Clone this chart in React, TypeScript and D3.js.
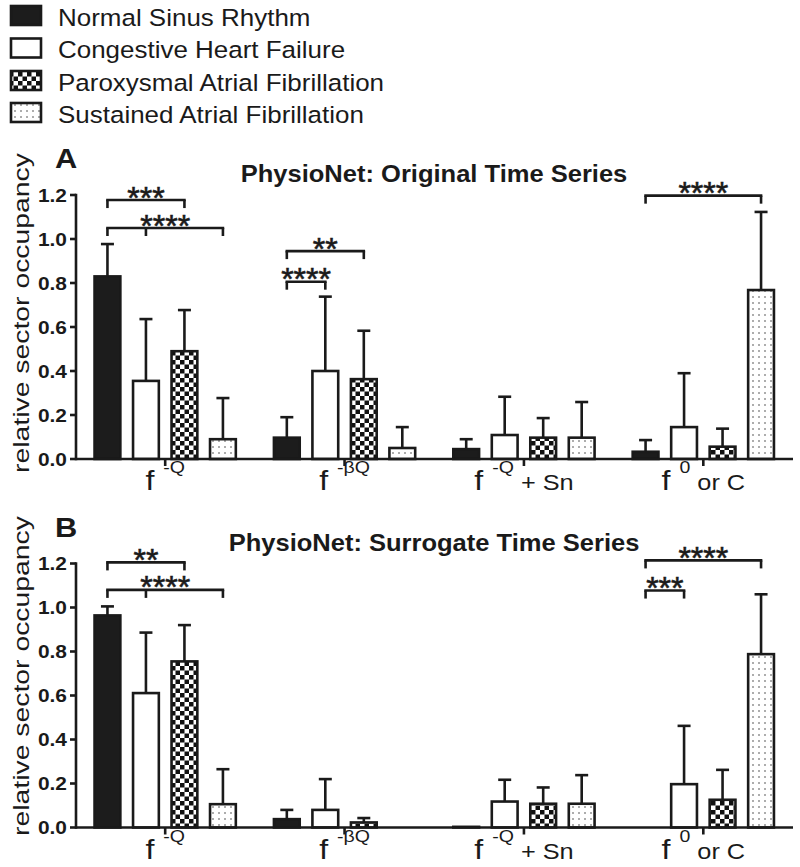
import React from "react";
import * as d3 from "d3";

const categories = ["f^-Q", "f^-βQ", "f^-Q + Sn", "f^0 or C"];
const labelBase = ["f", "f", "f", "f"];
const labelSup = ["-Q", "-βQ", "-Q", "0"];
const labelRest = ["", "", " + Sn", " or C"];
const seriesNames = [
  "Normal Sinus Rhythm",
  "Congestive Heart Failure",
  "Paroxysmal Atrial Fibrillation",
  "Sustained Atrial Fibrillation",
];
const yTicks = [0, 0.2, 0.4, 0.6, 0.8, 1.0, 1.2];

// Panel A: original time series (mean, SD) per series, per category
const origNSR = [0.83, 0.097, 0.045, 0.033];
const origCHF = [0.355, 0.4, 0.109, 0.145];
const origPAF = [0.49, 0.363, 0.097, 0.056];
const origSAF = [0.09, 0.05, 0.097, 0.768];
const origNSRsd = [0.147, 0.093, 0.045, 0.053];
const origCHFsd = [0.281, 0.338, 0.174, 0.245];
const origPAFsd = [0.187, 0.22, 0.089, 0.082];
const origSAFsd = [0.187, 0.095, 0.162, 0.355];

// Panel B: surrogate time series
const surrNSR = [0.964, 0.038, 0.003, 0];
const surrCHF = [0.611, 0.08, 0.118, 0.197];
const surrPAF = [0.755, 0.023, 0.108, 0.126];
const surrSAF = [0.106, 0, 0.108, 0.788];
const surrNSRsd = [0.041, 0.042, 0, 0];
const surrCHFsd = [0.275, 0.14, 0.099, 0.265];
const surrPAFsd = [0.165, 0.02, 0.074, 0.136];
const surrSAFsd = [0.159, 0, 0.13, 0.272];

// significance brackets: category index, series indices joined, height (data units), label
const bracketsOrig = [
  { cat: 0, pts: [0, 2], level: 1.177, stars: "***" },
  { cat: 0, pts: [0, 1, 3], level: 1.05, stars: "****" },
  { cat: 1, pts: [0, 2], level: 0.945, stars: "**" },
  { cat: 1, pts: [0, 1], level: 0.806, stars: "****" },
  { cat: 3, pts: [0, 3], level: 1.197, stars: "****" },
];
const bracketsSurr = [
  { cat: 0, pts: [0, 2], level: 1.205, stars: "**" },
  { cat: 0, pts: [0, 1, 3], level: 1.08, stars: "****" },
  { cat: 3, pts: [0, 3], level: 1.214, stars: "****" },
  { cat: 3, pts: [0, 1], level: 1.077, stars: "***" },
];

const FONT = "'Liberation Sans', Arial, Helvetica, sans-serif";
const INK = "#1a1a1a";
const fills = ["#1c1c1c", "#ffffff", "url(#checker)", "url(#dots)"];

function STxt(props: any) {
  const { x, y, sx = 1, rotate = 0, anchor = "start", size, weight = "normal", stroke, children } = props;
  const tf = `translate(${x},${y})` + (rotate ? ` rotate(${rotate})` : "") + ` scale(${sx},1)`;
  return (
    <text
      transform={tf}
      textAnchor={anchor}
      fontSize={size}
      fontWeight={weight}
      fontFamily={FONT}
      fill={INK}
      stroke={stroke ? INK : undefined}
      strokeWidth={stroke || undefined}
    >
      {children}
    </text>
  );
}

function Panel(props: any) {
  const { means, sds, brackets, title, letter, top, labelCenter } = props;
  const y = d3.scaleLinear().domain([0, 1.2]).range([top + 264, top]);
  const y0 = y(0);
  const x0 = d3.scaleBand<string>().domain(categories).range([75.5, 793]).padding(0);
  const x1 = d3
    .scaleBand<string>()
    .domain(seriesNames)
    .range([0, x0.bandwidth()])
    .paddingInner(0.33)
    .paddingOuter(0.495);
  const bw = x1.bandwidth();
  const cx = (c: number, s: number) => (x0(categories[c]) as number) + (x1(seriesNames[s]) as number) + bw / 2;
  const sw = 2.6;
  return (
    <g>
      <STxt x={55} y={top - 27} size={28} weight="bold" sx={1.1}>{letter}</STxt>
      <STxt x={434} y={top - 13} size={23} weight="bold" sx={1.11} anchor="middle">{title}</STxt>
      <STxt x={28.5} y={labelCenter} size={21.5} rotate={-90} sx={1.32} anchor="middle">relative sector occupancy</STxt>
      {/* bars */}
      {seriesNames.map((s, si) =>
        categories.map((c, ci) => {
          const v = means[si][ci];
          if (v <= 0) return null;
          return (
            <rect
              key={`b${si}-${ci}`}
              x={cx(ci, si) - bw / 2}
              y={y(v)}
              width={bw}
              height={y0 - y(v)}
              fill={fills[si]}
              stroke={INK}
              strokeWidth={sw}
            />
          );
        })
      )}
      {/* error bars */}
      {seriesNames.map((s, si) =>
        categories.map((c, ci) => {
          const v = means[si][ci];
          const e = sds[si][ci];
          if (e <= 0) return null;
          const xc = cx(ci, si);
          return (
            <g key={`e${si}-${ci}`} stroke={INK} strokeWidth={sw}>
              <line x1={xc} x2={xc} y1={y(v)} y2={y(v + e)} />
              <line x1={xc - 6.5} x2={xc + 6.5} y1={y(v + e)} y2={y(v + e)} />
            </g>
          );
        })
      )}
      {/* y axis */}
      <line x1={76} x2={76} y1={y0 + sw / 2} y2={y(1.2) - sw / 2} stroke={INK} strokeWidth={sw} />
      {yTicks.map((t) => (
        <g key={`yt${t}`}>
          <line x1={70} x2={76} y1={y(t)} y2={y(t)} stroke={INK} strokeWidth={sw} />
          <STxt x={67} y={y(t) + 6.8} size={19} weight="bold" sx={1.1} anchor="end">{t.toFixed(1)}</STxt>
        </g>
      ))}
      {/* x axis */}
      <line x1={76} x2={793} y1={y0} y2={y0} stroke={INK} strokeWidth={sw} />
      {categories.map((c, ci) => {
        const xc = (x0(c) as number) + x0.bandwidth() / 2;
        return (
          <g key={`xt${ci}`}>
            <line x1={xc} x2={xc} y1={y0} y2={y0 + 7} stroke={INK} strokeWidth={sw} />
            <text
              transform={`translate(${xc},${y0 + 31}) scale(1.15,1)`}
              textAnchor="middle"
              fontFamily={FONT}
              fill={INK}
              fontSize={22}
            >
              <tspan fontSize={28}>{labelBase[ci] + "\u00a0"}</tspan>
              <tspan fontSize={17} dy={-17}>{labelSup[ci]}</tspan>
              {labelRest[ci] ? <tspan dy={17}>{labelRest[ci].replace(/ /g, "\u00a0")}</tspan> : null}
            </text>
          </g>
        );
      })}
      {/* significance brackets */}
      {brackets.map((b: any, bi: number) => {
        const xs = b.pts.map((p: number) => cx(b.cat, p));
        const xa = Math.min(...xs);
        const xb = Math.max(...xs);
        const by = y(b.level);
        return (
          <g key={`br${bi}`}>
            <line x1={xa - sw / 2} x2={xb + sw / 2} y1={by} y2={by} stroke={INK} strokeWidth={sw} />
            {xs.map((xx: number, k: number) => (
              <line key={k} x1={xx} x2={xx} y1={by} y2={by + 8} stroke={INK} strokeWidth={sw} />
            ))}
            <STxt x={(xa + xb) / 2} y={by + 8.5} size={32} anchor="middle" stroke={0.6}>{b.stars}</STxt>
          </g>
        );
      })}
    </g>
  );
}

export default function App() {
  const legendY = [5, 37.5, 70, 102];
  return (
    <svg width={800} height={867} style={{ display: "block", position: "absolute", left: 0, top: 0 }}>
      <defs>
        <pattern id="checker" width={9} height={9} patternUnits="userSpaceOnUse">
          <rect width={9} height={9} fill="#fff" />
          <rect width={4.5} height={4.5} fill="#111" />
          <rect x={4.5} y={4.5} width={4.5} height={4.5} fill="#111" />
        </pattern>
        <pattern id="dots" width={6} height={6} patternUnits="userSpaceOnUse">
          <rect width={6} height={6} fill="#fff" />
          <circle cx={3} cy={3} r={0.8} fill="#444" />
        </pattern>
      </defs>
      <rect width={800} height={867} fill="#fff" />
      {seriesNames.map((s, i) => (
        <g key={s}>
          <rect x={11} y={legendY[i] + 1} width={30} height={19} fill={fills[i]} stroke={INK} strokeWidth={2.6} />
          <STxt x={58} y={legendY[i] + 20.5} size={24.5} sx={1.06}>{s}</STxt>
        </g>
      ))}
      <Panel
        means={[origNSR, origCHF, origPAF, origSAF]}
        sds={[origNSRsd, origCHFsd, origPAFsd, origSAFsd]}
        brackets={bracketsOrig}
        title="PhysioNet: Original Time Series"
        letter="A"
        top={195}
        labelCenter={313}
      />
      <Panel
        means={[surrNSR, surrCHF, surrPAF, surrSAF]}
        sds={[surrNSRsd, surrCHFsd, surrPAFsd, surrSAFsd]}
        brackets={bracketsSurr}
        title="PhysioNet: Surrogate Time Series"
        letter="B"
        top={563.5}
        labelCenter={676}
      />
    </svg>
  );
}
